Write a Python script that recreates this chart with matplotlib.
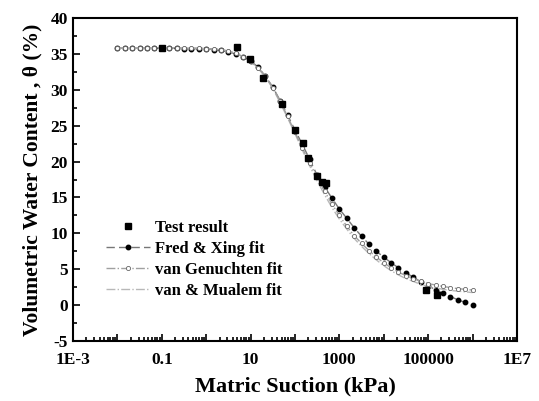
import matplotlib.pyplot as plt
from matplotlib.ticker import FixedLocator, NullFormatter

plt.rcParams['font.family'] = ['Liberation Serif', 'DejaVu Serif']
plt.rcParams['font.weight'] = 'bold'
plt.rcParams['axes.unicode_minus'] = False

# test data (suction kPa, water content %)
test_x = [0.1, 4.9, 9.8, 19, 50, 100, 150, 200, 310, 400, 500, 91000, 155000]
test_y = [35.8, 35.9, 34.3, 31.6, 28.0, 24.4, 22.6, 20.5, 18.0, 17.1, 17.0, 2.1, 1.4]

# fitted curves
fit_x = [0.01, 0.0147, 0.0215, 0.0316, 0.0464, 0.0681, 0.1, 0.147, 0.215, 0.316,
         0.464, 0.681, 1, 1.47, 2.15, 3.16, 4.64, 6.81, 10, 14.7,
         21.5, 31.6, 46.4, 68.1, 100, 147, 215, 316, 464, 681,
         1000, 1470, 2150, 3160, 4640, 6810, 10000, 14700, 21500, 31600,
         46400, 68100, 100000, 147000, 215000, 316000, 464000, 681000, 1000000]
fred_y = [35.8, 35.8, 35.8, 35.8, 35.8, 35.8, 35.8, 35.8, 35.8, 35.75,
          35.75, 35.7, 35.7, 35.6, 35.5, 35.3, 35.0, 34.6, 34.0, 33.2,
          31.9, 30.4, 28.5, 26.5, 24.4, 22.4, 20.3, 18.1, 16.5, 14.9,
          13.4, 12.1, 10.8, 9.6, 8.5, 7.5, 6.7, 5.9, 5.2, 4.5,
          3.9, 3.25, 2.7, 2.15, 1.65, 1.2, 0.75, 0.38, 0.0]
vg_y = [35.8, 35.8, 35.8, 35.8, 35.8, 35.8, 35.8, 35.8, 35.8, 35.8,
        35.8, 35.8, 35.75, 35.7, 35.6, 35.4, 35.1, 34.6, 34.0, 33.1,
        31.9, 30.3, 28.4, 26.3, 24.1, 21.9, 19.8, 17.8, 15.9, 14.1,
        12.5, 11.0, 9.7, 8.6, 7.6, 6.7, 5.9, 5.2, 4.6, 4.1,
        3.7, 3.3, 3.0, 2.8, 2.6, 2.45, 2.3, 2.2, 2.1]
vgm_y = [35.8, 35.8, 35.8, 35.8, 35.8, 35.8, 35.8, 35.8, 35.8, 35.8,
         35.8, 35.8, 35.75, 35.7, 35.6, 35.4, 35.1, 34.6, 34.0, 33.0,
         31.8, 30.2, 28.2, 26.1, 23.9, 21.6, 19.4, 17.3, 15.4, 13.6,
         12.0, 10.6, 9.3, 8.2, 7.2, 6.3, 5.5, 4.8, 4.2, 3.7,
         3.3, 2.9, 2.6, 2.4, 2.2, 2.05, 1.95, 1.85, 1.75]

x_ticks = [1e-3, 1e-2, 1e-1, 1, 10, 100, 1000, 1e4, 1e5, 1e6, 1e7]
x_labels = ['1E-3', '', '0.1', '', '10', '', '1000', '', '100000', '', '1E7']

fig = plt.figure(figsize=(5.39, 4.01), dpi=100)
ax = fig.add_axes([0.1354, 0.1496, 0.8236, 0.8054])

ax.plot(test_x, test_y, 's', color='black', ms=5, zorder=5, label='Test result')
ax.plot(fit_x, fred_y, '--', color='#777777', lw=1, marker='o', ms=3.2,
        mfc='black', mec='black', dashes=(6, 3), label='Fred & Xing fit', zorder=2)
ax.plot(fit_x, vgm_y, '-.', color='#b8b8b8', lw=1, label='van & Mualem fit', zorder=3)
ax.plot(fit_x, vg_y, '-.', color='#a0a0a0', lw=1, marker='o', ms=3.0,
        mfc='white', mec='#666666', mew=0.6, label='van Genuchten fit', zorder=4)

ax.set_xscale('log')
ax.set_xlim(1e-3, 1e7)
ax.set_ylim(-5, 40)
ax.xaxis.set_major_locator(FixedLocator(x_ticks))
ax.set_xticklabels(x_labels)
ax.xaxis.set_minor_locator(FixedLocator([m * 10.0 ** e for e in range(-3, 7) for m in range(2, 10)]))
ax.xaxis.set_minor_formatter(NullFormatter())
ax.set_yticks(range(-5, 41, 5))
ax.set_yticks([v + 2.5 for v in range(-5, 40, 5)], minor=True)

ax.tick_params(which='both', direction='in', top=False, right=False, labelsize=12.5, width=1.2)
ax.tick_params(which='major', length=5)
ax.tick_params(which='minor', length=3)
ax.tick_params(axis='x', pad=8)
for s in ax.spines.values():
    s.set_linewidth(1.5)

ax.set_xlabel('Matric Suction (kPa)', fontsize=16, fontweight='bold', labelpad=6)
ax.set_ylabel('Volumetric Water Content , θ (%)', fontsize=15.5, fontweight='bold', labelpad=6)

h, l = ax.get_legend_handles_labels()
order = [0, 1, 3, 2]
ax.legend([h[i] for i in order], [l[i] for i in order], loc='lower left',
          bbox_to_anchor=(0.06, 0.11), frameon=False, fontsize=12,
          handlelength=2.6, handletextpad=0.3, labelspacing=0.3, borderaxespad=0)

fig.savefig('out.png', dpi=100)
